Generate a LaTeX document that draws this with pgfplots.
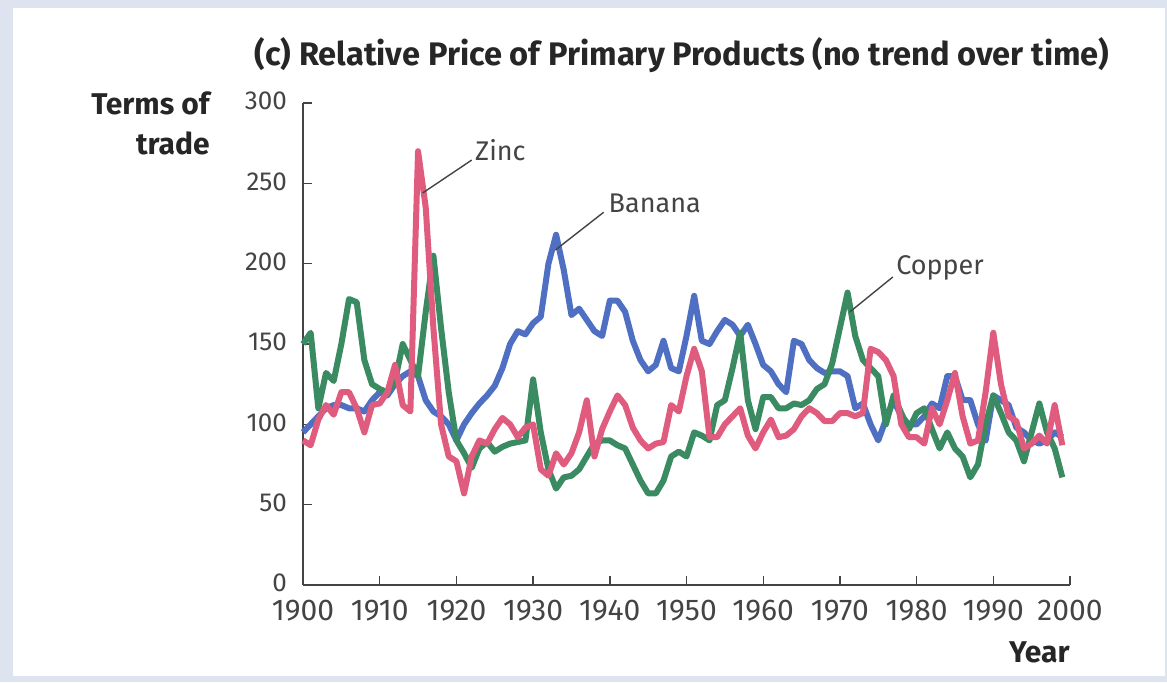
\documentclass[border=0pt]{standalone}
\usepackage{pgfplots}
\pgfplotsset{compat=1.18}
\usepackage{pgfplotstable}
\usepackage{fontspec}
\setmainfont{Fira Sans}
\definecolor{bgblue}{HTML}{DDE4F0}
\definecolor{cblue}{HTML}{4F6FC2}
\definecolor{cgreen}{HTML}{3A8A62}
\definecolor{cred}{HTML}{E05C7E}
\definecolor{axgray}{HTML}{444444}

\pgfplotstableread{
year val
1900 95
1901 100
1902 105
1903 110
1904 112
1905 112
1906 110
1907 110
1908 108
1909 115
1910 120
1911 118
1912 125
1913 130
1914 133
1915 130
1916 115
1917 108
1918 105
1919 100
1920 90
1921 100
1922 107
1923 113
1924 118
1925 124
1926 135
1927 150
1928 158
1929 156
1930 163
1931 167
1932 200
1933 218
1934 196
1935 168
1936 172
1937 165
1938 158
1939 155
1940 177
1941 177
1942 170
1943 152
1944 140
1945 133
1946 137
1947 152
1948 135
1949 133
1950 155
1951 180
1952 152
1953 150
1954 158
1955 165
1956 162
1957 155
1958 162
1959 150
1960 137
1961 133
1962 125
1963 120
1964 152
1965 150
1966 140
1967 135
1968 132
1969 133
1970 133
1971 130
1972 110
1973 113
1974 100
1975 90
1976 103
1977 115
1978 105
1979 100
1980 100
1981 105
1982 113
1983 110
1984 130
1985 130
1986 115
1987 115
1988 100
1989 90
1990 118
1991 115
1992 112
1993 98
1994 95
1995 90
1996 88
1997 90
1998 95
1999 92
}\banana

\pgfplotstableread{
year val
1900 150
1901 157
1902 110
1903 132
1904 127
1905 150
1906 178
1907 176
1908 140
1909 125
1910 122
1911 120
1912 127
1913 150
1914 140
1915 130
1916 170
1917 205
1918 160
1919 120
1920 90
1921 82
1922 73
1923 85
1924 89
1925 83
1926 86
1927 88
1928 89
1929 90
1930 128
1931 95
1932 72
1933 60
1934 67
1935 68
1936 72
1937 80
1938 88
1939 90
1940 90
1941 87
1942 85
1943 75
1944 65
1945 57
1946 57
1947 65
1948 80
1949 83
1950 80
1951 95
1952 93
1953 90
1954 112
1955 115
1956 135
1957 157
1958 115
1959 97
1960 117
1961 117
1962 110
1963 110
1964 113
1965 112
1966 115
1967 122
1968 125
1969 138
1970 160
1971 182
1972 155
1973 140
1974 135
1975 130
1976 100
1977 118
1978 107
1979 97
1980 107
1981 110
1982 97
1983 85
1984 95
1985 85
1986 80
1987 67
1988 75
1989 100
1990 118
1991 107
1992 95
1993 90
1994 77
1995 95
1996 113
1997 95
1998 85
1999 67
}\copper

\pgfplotstableread{
year val
1900 90
1901 87
1902 103
1903 112
1904 106
1905 120
1906 120
1907 110
1908 95
1909 112
1910 113
1911 120
1912 137
1913 112
1914 108
1915 270
1916 235
1917 160
1918 100
1919 80
1920 77
1921 57
1922 80
1923 90
1924 88
1925 97
1926 104
1927 100
1928 92
1929 98
1930 100
1931 72
1932 68
1933 82
1934 75
1935 82
1936 95
1937 115
1938 80
1939 97
1940 108
1941 118
1942 112
1943 98
1944 90
1945 85
1946 88
1947 89
1948 112
1949 108
1950 130
1951 147
1952 133
1953 92
1954 92
1955 100
1956 105
1957 110
1958 93
1959 85
1960 95
1961 103
1962 92
1963 93
1964 97
1965 105
1966 110
1967 107
1968 102
1969 102
1970 107
1971 107
1972 105
1973 107
1974 147
1975 145
1976 140
1977 130
1978 100
1979 92
1980 92
1981 88
1982 110
1983 100
1984 115
1985 132
1986 105
1987 88
1988 90
1989 120
1990 157
1991 125
1992 105
1993 102
1994 85
1995 88
1996 93
1997 88
1998 112
1999 87
}\zinc

\begin{document}
\begin{tikzpicture}
\fill[bgblue] (0,0) rectangle (583.5pt,-341pt);
\fill[white] (6.5pt,-4pt) rectangle (582.5pt,-338pt);
\begin{axis}[
  at={(151.5pt,-292.5pt)}, anchor=south west,
  scale only axis, width=383.5pt, height=241pt,
  xmin=1900, xmax=2000, ymin=0, ymax=300,
  axis x line=bottom, axis y line=left,
  axis line style={-, draw=axgray, line width=0.8pt},
  tick style={draw=axgray, line width=0.7pt},
  tick align=inside, major tick length=4.5pt,
  xtick={1900,1910,...,2000}, ytick={0,50,...,300},
  x tick label style={/pgf/number format/1000 sep={}, font=\fontsize{15}{17}\selectfont, text=axgray, yshift=-4pt},
  y tick label style={font=\fontsize{13}{15}\selectfont, text=axgray, xshift=-4.5pt, yshift=1pt},
  /pgf/number format/assume math mode=true,
  clip=false,
  line join=round,
]
\addplot[cblue, line width=3pt, no markers] table[x=year,y=val] {\banana};
\addplot[cgreen, line width=3pt, no markers] table[x=year,y=val] {\copper};
\addplot[cred, line width=3pt, no markers] table[x=year,y=val] {\zinc};
\draw[axgray, line width=0.7pt] (axis cs:1922.0,264.5) -- (axis cs:1915.6,244);
\draw[axgray, line width=0.7pt] (axis cs:1939.2,232) -- (axis cs:1932.9,208.5);
\draw[axgray, line width=0.7pt] (axis cs:1976.9,191.7) -- (axis cs:1971.3,170);
\node[anchor=west, inner sep=0pt, font=\fontsize{13.5}{15}\selectfont, text=axgray] at (axis cs:1922.4,270.7) {Zinc};
\node[anchor=west, inner sep=0pt, font=\fontsize{13.5}{15}\selectfont, text=axgray] at (axis cs:1939.8,237.8) {Banana};
\node[anchor=west, inner sep=0pt, font=\fontsize{13.5}{15}\selectfont, text=axgray] at (axis cs:1977.3,197.3) {Copper};
\end{axis}
\node[anchor=base, inner sep=0pt, font=\bfseries\fontsize{16.3}{18}\selectfont, text=black!85] at (341pt,-32.5pt) {(c) Relative Price of Primary Products (no trend over time)};
\node[anchor=base east, inner sep=0pt, font=\bfseries\fontsize{15}{17}\selectfont, text=black!85] at (105pt,-57pt) {Terms of};
\node[anchor=base east, inner sep=0pt, font=\bfseries\fontsize{15}{17}\selectfont, text=black!85] at (105pt,-77pt) {trade};
\node[anchor=base east, inner sep=0pt, font=\bfseries\fontsize{15}{17}\selectfont, text=black!85] at (535pt,-331pt) {Year};
\end{tikzpicture}
\end{document}
